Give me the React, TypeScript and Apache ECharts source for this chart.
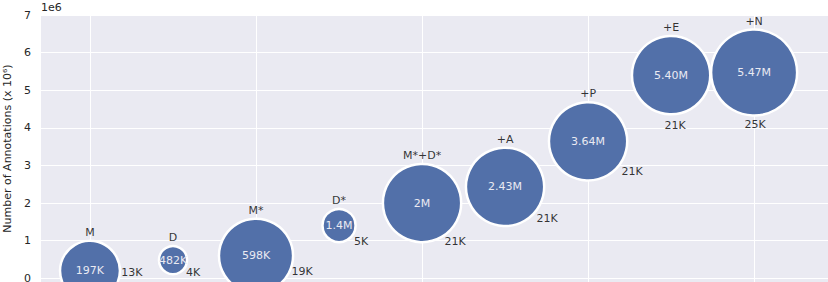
import React, { useEffect, useRef } from "react";
import * as echarts from "echarts";

const names = ["M", "D", "M*", "D*", "M*+D*", "+A", "+P", "+E", "+N"];
const annotations = [197000, 482000, 598000, 1400000, 2000000, 2430000, 3640000, 5400000, 5470000];
const valueLabels = ["197K", "482K", "598K", "1.4M", "2M", "2.43M", "3.64M", "5.40M", "5.47M"];
const sizesK = [13, 4, 19, 5, 21, 21, 21, 21, 25];
const sizeLabels = ["13K", "4K", "19K", "5K", "21K", "21K", "21K", "21K", "25K"];

// layout: pixel offsets of the size annotation from each bubble's centre
const sizeLabelOffsets = [
  [42, 2], [20, 12], [46, 16], [22, 16], [33, 38], [42, 32], [44, 30], [4, 50], [1, 52],
];

const FONT = "DejaVu Sans";
const diameter = (k: number) => Math.sqrt(Math.max(0, 326 * k - 400)) - 2;

export default function App() {
  const ref = useRef<HTMLDivElement>(null);
  useEffect(() => {
    if (!ref.current) return;
    const chart = echarts.init(ref.current, null, { renderer: "svg" });
    const pts = annotations.map((v, i) => [i, v, sizesK[i]]);
    const sym = (val: number[]) => diameter(val[2]);
    chart.setOption({
      animation: false,
      textStyle: { fontFamily: FONT },
      grid: {
        left: 41, right: 0, top: 15, bottom: 0,
        outerBoundsMode: "none", containLabel: false,
        show: true, backgroundColor: "#eaeaf2", borderWidth: 0,
      },
      graphic: [
        {
          type: "text", left: 41, top: 2,
          style: { text: "1e6", fontSize: 11, fontFamily: FONT, fill: "#262626" },
        },
      ],
      xAxis: {
        type: "value", min: -0.59, max: 8.89, splitNumber: 5,
        axisLabel: { show: false }, axisTick: { show: false }, axisLine: { show: false },
        splitLine: { show: true, showMinLine: false, showMaxLine: false, lineStyle: { color: "#ffffff", width: 1 } },
      },
      yAxis: {
        type: "value", min: -100000, max: 7000000, splitNumber: 7,
        name: "Number of Annotations (x 10⁶)",
        nameLocation: "middle", nameGap: 19,
        nameTextStyle: { fontSize: 11, color: "#262626", fontFamily: FONT },
        axisLabel: {
          showMinLabel: false, fontSize: 11, color: "#262626", margin: 10, fontFamily: FONT,
          formatter: (v: number) => String(Math.round(v / 1e6)),
        },
        axisTick: { show: false }, axisLine: { show: false },
        splitLine: { show: true, showMinLine: false, lineStyle: { color: "#ffffff", width: 1 } },
      },
      series: [
        {
          type: "scatter", data: pts, symbolSize: sym, clip: false,
          itemStyle: { color: "#5270a9", borderColor: "#ffffff", borderWidth: 2.5, opacity: 1 },
          label: {
            show: true, position: "inside", fontSize: 11, color: "#eaeaf2", fontFamily: FONT,
            formatter: (p: any) => valueLabels[p.dataIndex],
          },
          z: 3,
        },
        {
          type: "scatter", data: pts, symbolSize: sym, clip: false, silent: true,
          itemStyle: { color: "rgba(0,0,0,0)" },
          label: {
            show: true, position: "top", distance: 3, fontSize: 11, color: "#000000", fontFamily: FONT,
            formatter: (p: any) => names[p.dataIndex],
          },
          z: 4,
        },
        {
          type: "scatter", clip: false, silent: true, symbolSize: sym,
          data: pts.map((p, i) => ({
            value: p,
            label: { offset: sizeLabelOffsets[i] },
          })),
          itemStyle: { color: "rgba(0,0,0,0)" },
          label: {
            show: true, position: "inside", fontSize: 11, color: "#000000", fontFamily: FONT,
            formatter: (p: any) => sizeLabels[p.dataIndex],
          },
          z: 4,
        },
      ],
    });
    return () => chart.dispose();
  }, []);
  return (
    <div
      ref={ref}
      style={{ position: "absolute", left: 0, top: 0, width: 828, height: 282, background: "#ffffff" }}
    />
  );
}
